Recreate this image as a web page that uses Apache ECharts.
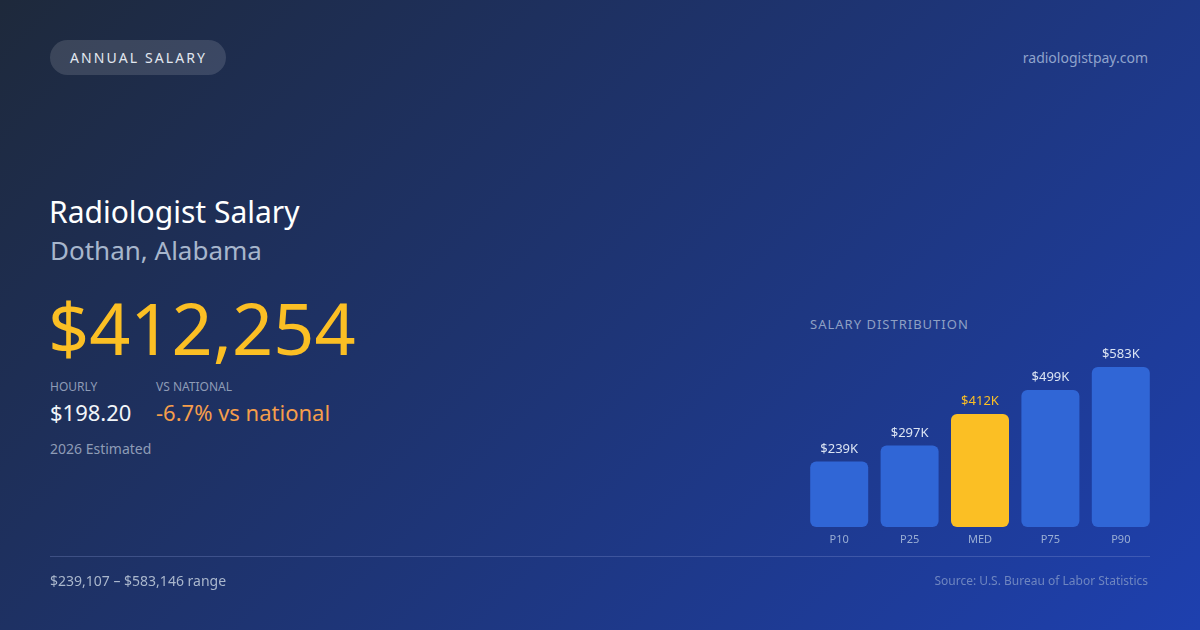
<!DOCTYPE html>
<html>
<head>
<meta charset="utf-8">
<script src="https://cdn.jsdelivr.net/npm/echarts@6/dist/echarts.min.js"></script>
<style>
  html, body { margin: 0; padding: 0; }
  body {
    width: 1200px; height: 630px; overflow: hidden; position: relative;
    background: linear-gradient(135deg, #1e293b 0%, #1e40af 100%);
    font-family: "Noto Sans", "Open Sans", sans-serif;
  }
  #chart { position: absolute; left: 0; top: 0; width: 1200px; height: 630px; }
  .t { position: absolute; line-height: 1; white-space: nowrap; margin: 0; }
  .badge {
    position: absolute; left: 50px; top: 40px; width: 176px; height: 35px;
    border-radius: 18px; background: rgba(255,255,255,0.13);
  }
  .divider { position: absolute; left: 50px; top: 556px; width: 1100px; height: 1px; background: rgba(148,163,220,0.28); }
</style>
</head>
<body>
<div class="badge"></div>
<div class="t" style="left:70px; top:51px; font-size:14px; letter-spacing:2.1px; color:#e2e8f0;">ANNUAL SALARY</div>
<div class="t" style="right:52px; top:51px; font-size:14px; color:#8fa3cc;">radiologistpay.com</div>

<div class="t" style="left:49px; top:197px; font-size:30px; color:#ffffff;">Radiologist Salary</div>
<div class="t" style="left:50px; top:237px; font-size:26px; color:#a7b6cc;">Dothan, Alabama</div>
<div class="t" style="left:48px; top:291px; font-size:72px; color:#fbbf24;">$412,254</div>

<div class="t" style="left:50px; top:381px; font-size:12px; color:#8e9cb6;">HOURLY</div>
<div class="t" style="left:156px; top:381px; font-size:12px; color:#8e9cb6;">VS NATIONAL</div>
<div class="t" style="left:50px; top:401px; font-size:22px; color:#f1f5f9;">$198.20</div>
<div class="t" style="left:156px; top:401px; font-size:22px; color:#f59e4b;">-6.7% vs national</div>
<div class="t" style="left:50px; top:442px; font-size:14px; color:#8e9cb6;">2026 Estimated</div>

<div class="t" style="left:810px; top:318px; font-size:13px; letter-spacing:1px; color:#8ea0c4;">SALARY DISTRIBUTION</div>

<div id="chart"></div>

<div class="divider"></div>
<div class="t" style="left:50px; top:574px; font-size:14px; color:#aab7cc;">$239,107 – $583,146 range</div>
<div class="t" style="right:52px; top:575px; font-size:12px; color:#6f86c0;">Source: U.S. Bureau of Labor Statistics</div>

<script>
const categories = ['P10', 'P25', 'MED', 'P75', 'P90'];
const salaries = [239107, 297000, 412254, 499000, 583146];
const highlightCategory = 'MED';

const chart = echarts.init(document.getElementById('chart'), null, { renderer: 'canvas' });
const barBlue = '#3066d6';
const barGold = '#fbbf24';

chart.setOption({
  backgroundColor: 'transparent',
  animation: false,
  textStyle: { fontFamily: '"Noto Sans", sans-serif' },
  grid: { left: 804, width: 352, top: 367, bottom: 103 },
  xAxis: {
    type: 'category',
    data: categories,
    axisLine: { show: false },
    axisTick: { show: false },
    axisLabel: { color: '#9aaed4', fontSize: 11, margin: 7 }
  },
  yAxis: {
    type: 'value', min: 0, max: 583146,
    show: false, splitLine: { show: false }
  },
  series: [{
    type: 'bar',
    barWidth: 58,
    data: salaries.map((v, i) => ({
      value: v,
      itemStyle: { color: categories[i] === highlightCategory ? barGold : barBlue, borderRadius: 6 },
      label: { color: categories[i] === highlightCategory ? barGold : '#dbe4f3' }
    })),
    label: {
      show: true, position: 'top', distance: 6, fontSize: 13,
      formatter: p => '$' + Math.round(p.value / 1000) + 'K'
    }
  }]
});
</script>
</body>
</html>
